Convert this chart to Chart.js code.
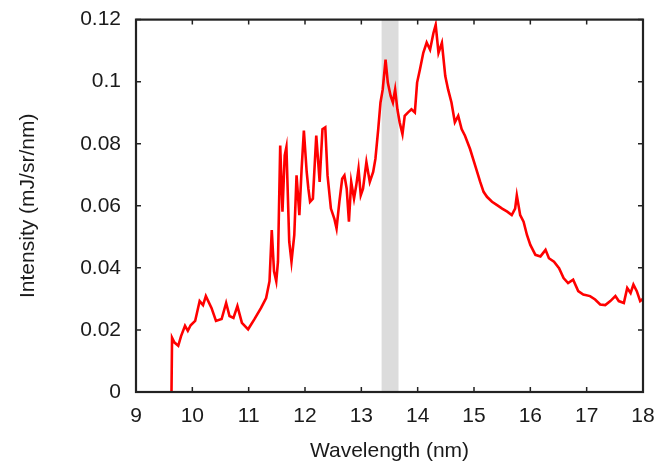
<!DOCTYPE html>
<html>
<head>
<meta charset="utf-8">
<script src="https://cdn.jsdelivr.net/npm/chart.js@4/dist/chart.umd.min.js"></script>
<style>
html,body{margin:0;padding:0;background:#fff;}
#wrap{width:666px;height:464px;}
</style>
</head>
<body>
<div id="wrap"><canvas id="c" width="666" height="464"></canvas></div>
<script>
// Data
const wavelength = [
  9.63, 9.64, 9.68, 9.75, 9.80, 9.87, 9.92, 9.97, 10.05, 10.13, 10.19, 10.24, 10.34, 10.42, 10.52,
  10.60, 10.66, 10.73, 10.80, 10.88, 10.99, 11.10, 11.22, 11.31, 11.37, 11.41, 11.45, 11.49, 11.52,
  11.56, 11.60, 11.64, 11.67, 11.72, 11.76, 11.81, 11.85, 11.90, 11.94, 11.98, 12.03, 12.06, 12.09,
  12.14, 12.20, 12.26, 12.31, 12.36, 12.40, 12.46, 12.52, 12.56, 12.61, 12.66, 12.70, 12.74, 12.78,
  12.82, 12.87, 12.91, 12.95, 12.99, 13.03, 13.09, 13.15, 13.21, 13.25, 13.30, 13.34, 13.38, 13.43,
  13.47, 13.52, 13.56, 13.60, 13.64, 13.68, 13.73, 13.77, 13.83, 13.89, 13.95, 13.99, 14.04, 14.10,
  14.16, 14.22, 14.28, 14.32, 14.37, 14.43, 14.49, 14.54, 14.60, 14.66, 14.72, 14.78, 14.84, 14.93,
  15.02, 15.11, 15.17, 15.23, 15.32, 15.41, 15.50, 15.59, 15.67, 15.73, 15.76, 15.82, 15.88, 15.94,
  16.00, 16.09, 16.18, 16.27, 16.33, 16.42, 16.51, 16.59, 16.67, 16.76, 16.85, 16.94, 17.06, 17.15,
  17.24, 17.33, 17.42, 17.51, 17.57, 17.66, 17.72, 17.78, 17.83, 17.89, 17.95, 18.00
];
const intensity = [
  0, 0.0175, 0.0160, 0.0149, 0.0180, 0.0213, 0.0197, 0.0215, 0.0229, 0.0293, 0.0280, 0.0309, 0.0271, 0.0229, 0.0235,
  0.0287, 0.0245, 0.0239, 0.0277, 0.0223, 0.0202, 0.0234, 0.0271, 0.0303, 0.0357, 0.0522, 0.0389, 0.0357, 0.0420,
  0.0794, 0.0581, 0.0762, 0.0789, 0.0485, 0.0420, 0.0506, 0.0698, 0.0570, 0.0719, 0.0842, 0.0709, 0.0655, 0.0613,
  0.0623, 0.0826, 0.0677, 0.0847, 0.0853, 0.0698, 0.0591, 0.0559, 0.0527, 0.0613, 0.0687, 0.0698, 0.0655, 0.0549,
  0.0677, 0.0623, 0.0666, 0.0719, 0.0634, 0.0655, 0.0741, 0.0677, 0.0709, 0.0751, 0.0847, 0.0933, 0.0975, 0.1071,
  0.0997, 0.0954, 0.0933, 0.0975, 0.0911, 0.0869, 0.0831, 0.0890, 0.0901, 0.0911, 0.0901, 0.0997, 0.1039, 0.1093,
  0.1126, 0.1103, 0.1157, 0.1183, 0.1093, 0.1125, 0.1018, 0.0975, 0.0933, 0.0869, 0.0890, 0.0847, 0.0826, 0.0783,
  0.0730, 0.0677, 0.0645, 0.0629, 0.0613, 0.0602, 0.0591, 0.0581, 0.0570, 0.0591, 0.0634, 0.0570, 0.0549, 0.0506,
  0.0474, 0.0442, 0.0437, 0.0458, 0.0431, 0.0420, 0.0399, 0.0367, 0.0351, 0.0362, 0.0325, 0.0314, 0.0309, 0.0298,
  0.0282, 0.0280, 0.0293, 0.0309, 0.0293, 0.0287, 0.0335, 0.0319, 0.0346, 0.0325, 0.0293, 0.0300
];
const xTicks = [9, 10, 11, 12, 13, 14, 15, 16, 17, 18];
const yTicks = [0, 0.02, 0.04, 0.06, 0.08, 0.1, 0.12];
const yTickLabels = ['0', '0.02', '0.04', '0.06', '0.08', '0.1', '0.12'];
const band = [13.36, 13.66];
const xTitle = 'Wavelength (nm)';
const yTitle = 'Intensity (mJ/sr/nm)';

const points = wavelength.map((w, i) => ({x: w, y: intensity[i]}));
const FONT = {family: '"Liberation Sans", Arial, Helvetica, sans-serif', size: 21};
const TXT = '#1a1a1a';

const framePlugin = {
  id: 'framePlugin',
  beforeDatasetsDraw(chart) {
    const {ctx, chartArea: a, scales: {x}} = chart;
    ctx.save();
    ctx.fillStyle = '#dcdcdc';
    const x0 = x.getPixelForValue(band[0]);
    const x1 = x.getPixelForValue(band[1]);
    ctx.fillRect(x0, a.top, x1 - x0, a.bottom - a.top);
    ctx.restore();
  },
  afterDatasetsDraw(chart) {
    const {ctx, chartArea: a, scales: {x, y}} = chart;
    ctx.save();
    ctx.strokeStyle = '#222';
    ctx.lineWidth = 1.5;
    const L = 5;
    ctx.beginPath();
    xTicks.forEach(v => {
      const px = x.getPixelForValue(v);
      ctx.moveTo(px, a.bottom); ctx.lineTo(px, a.bottom - L);
      ctx.moveTo(px, a.top); ctx.lineTo(px, a.top + L);
    });
    yTicks.forEach(v => {
      const py = y.getPixelForValue(v);
      ctx.moveTo(a.left, py); ctx.lineTo(a.left + L, py);
      ctx.moveTo(a.right, py); ctx.lineTo(a.right - L, py);
    });
    ctx.stroke();
    ctx.lineWidth = 2.2;
    ctx.strokeRect(a.left, a.top, a.right - a.left, a.bottom - a.top);
    ctx.restore();
  }
};

new Chart(document.getElementById('c'), {
  type: 'line',
  data: {
    datasets: [{
      data: points,
      borderColor: 'rgb(255,0,0)',
      borderWidth: 2.6,
      pointRadius: 0,
      tension: 0,
      fill: false
    }]
  },
  options: {
    responsive: false,
    animation: false,
    devicePixelRatio: 1,
    layout: {padding: {left: 0, right: 23, top: 16, bottom: 0}},
    plugins: {legend: {display: false}, tooltip: {enabled: false}},
    scales: {
      x: {
        type: 'linear', min: 9, max: 18,
        afterFit: s => { s.height = 72; },
        afterBuildTicks: s => { s.ticks = xTicks.map(v => ({value: v})); },
        grid: {display: false},
        border: {display: false},
        ticks: {padding: 4, font: FONT, color: TXT, maxRotation: 0, autoSkip: false,
          callback: v => String(v)},
        title: {display: true, text: xTitle, font: FONT, color: TXT, padding: {top: 0, bottom: 0}}
      },
      y: {
        type: 'linear', min: 0, max: 0.12,
        afterFit: s => { s.width = 136; },
        afterBuildTicks: s => { s.ticks = yTicks.map(v => ({value: v})); },
        grid: {display: false},
        border: {display: false},
        ticks: {padding: 7, font: FONT, color: TXT, autoSkip: false,
          callback: (v) => { const i = yTicks.findIndex(t => Math.abs(t - v) < 1e-9); return i >= 0 ? yTickLabels[i] : ''; }},
        title: {display: true, text: yTitle, font: FONT, color: TXT, padding: {top: 16, bottom: 0}}
      }
    }
  },
  plugins: [framePlugin]
});
</script>
</body>
</html>
